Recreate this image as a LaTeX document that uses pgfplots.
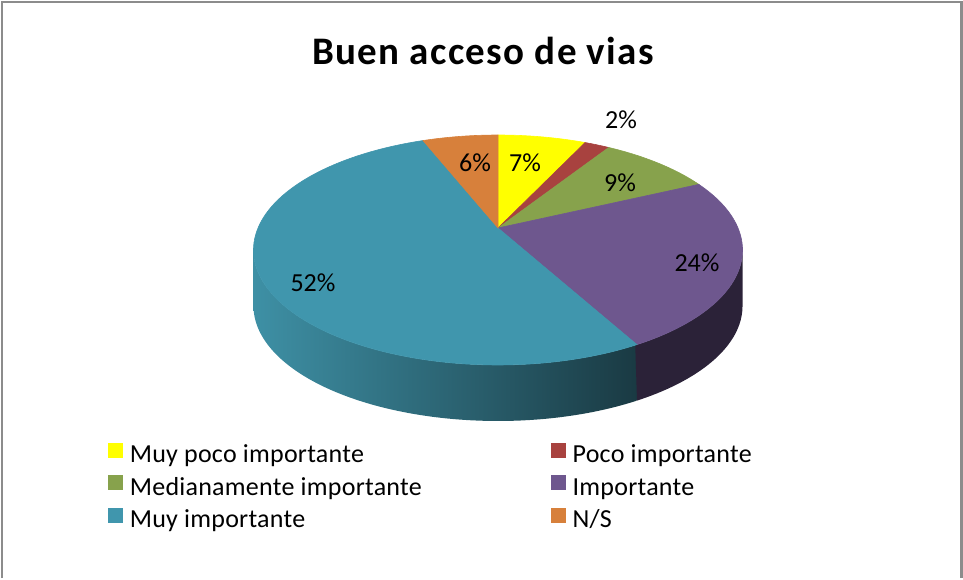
\documentclass[border=0pt]{standalone}
\usepackage{pgfplots}
\pgfplotsset{compat=1.18}
\usepackage{pgfplotstable}
\usepackage{fontspec}
\setmainfont{Carlito}
\definecolor{cY}{HTML}{FFFF00}
\definecolor{cR}{HTML}{A8423F}
\definecolor{cG}{HTML}{87A24C}
\definecolor{cP}{HTML}{6E578E}
\definecolor{cT}{HTML}{4096AD}
\definecolor{cO}{HTML}{D7803B}
\definecolor{cPs}{HTML}{2B2238}
\definecolor{cTsL}{HTML}{3E90A5}
\definecolor{cTsR}{HTML}{1A3A43}
\definecolor{frame}{HTML}{8C8C8C}

\pgfplotstableread{
idx pct
0 7
1 2
2 9
3 24
4 52
5 6
}\piedata

\begin{document}
\begin{tikzpicture}
\pgfplotstablegetelem{0}{pct}\of\piedata\edef\pA{\pgfplotsretval}
\pgfplotstablegetelem{1}{pct}\of\piedata\edef\pB{\pgfplotsretval}
\pgfplotstablegetelem{2}{pct}\of\piedata\edef\pC{\pgfplotsretval}
\pgfplotstablegetelem{3}{pct}\of\piedata\edef\pD{\pgfplotsretval}
\pgfplotstablegetelem{4}{pct}\of\piedata\edef\pE{\pgfplotsretval}
\pgfplotstablegetelem{5}{pct}\of\piedata\edef\pF{\pgfplotsretval}
\pgfmathsetmacro\aA{0}
\pgfmathsetmacro\aB{\aA+3.6*\pA}
\pgfmathsetmacro\aC{\aB+3.6*\pB}
\pgfmathsetmacro\aD{\aC+3.6*\pC}
\pgfmathsetmacro\aE{\aD+3.6*\pD}
\pgfmathsetmacro\aF{\aE+3.6*\pE}
\pgfmathsetmacro\aG{\aF+3.6*\pF}
\pgfmathsetmacro\sL{max(\aD,101.03)}
\pgfmathsetmacro\sR{min(\aF,258.97)}
\pgfmathsetmacro\sM{\aE+0.4}
\begin{axis}[
  width=481.5pt, height=289pt, scale only axis, hide axis,
  xmin=0, xmax=963, ymin=0, ymax=578, y dir=reverse, clip=false,
  declare function={
    px(\f)=498+240*sin(\f)/(1+0.1913*cos(\f));
    py(\f)=(228-67.17*cos(\f))/(1+0.1913*cos(\f));
  },
  legend columns=2,
  legend cell align=left,
  legend style={draw=none, fill=none,
    at={(axis description cs:0.11215,0.2336)}, anchor=north west,
    inner sep=0pt, outer sep=0pt,
    font=\fontsize{13}{15}\selectfont\addfontfeature{LetterSpace=1},
    nodes={inner sep=0pt, text height=9pt, text depth=3pt},
    row sep=3.25pt,
    /tikz/column 1/.style={column sep=3.5pt},
    /tikz/column 2/.style={column sep=64.5pt},
    /tikz/column 3/.style={column sep=3.5pt}},
]
\addlegendimage{legend image code/.code={\fill[cY] (0pt,-0.3pt) rectangle (7pt,6.7pt);}}
\addlegendentry{Muy poco importante}
\addlegendimage{legend image code/.code={\fill[cR] (0pt,-0.3pt) rectangle (7pt,6.7pt);}}
\addlegendentry{Poco importante}
\addlegendimage{legend image code/.code={\fill[cG] (0pt,-0.3pt) rectangle (7pt,6.7pt);}}
\addlegendentry{Medianamente importante}
\addlegendimage{legend image code/.code={\fill[cP] (0pt,-0.3pt) rectangle (7pt,6.7pt);}}
\addlegendentry{Importante}
\addlegendimage{legend image code/.code={\fill[cT] (0pt,-0.3pt) rectangle (7pt,6.7pt);}}
\addlegendentry{Muy importante}
\addlegendimage{legend image code/.code={\fill[cO] (0pt,-0.3pt) rectangle (7pt,6.7pt);}}
\addlegendentry{N/S}

\path (0,0) rectangle (963,578);
\draw[frame, line width=1.25pt] (2,578) -- (2,2) -- (961.5,2) -- (961.5,578);

% sides
\addplot[forget plot, left color=cTsL, right color=cTsR, draw=none, domain=0:2, samples=241, variable=\t]
  ({px(\aE+(\sR-\aE)*(1-abs(1-\t)))},{py(\aE+(\sR-\aE)*(1-abs(1-\t)))+56*(\t>1)}) -- cycle;
\addplot[forget plot, fill=cPs, draw=none, domain=0:2, samples=241, variable=\t]
  ({px(\sL+(\sM-\sL)*(1-abs(1-\t)))},{py(\sL+(\sM-\sL)*(1-abs(1-\t)))+56*(\t>1)}) -- cycle;

% top face
\addplot[forget plot, fill=cY, draw=cY, line width=0.3pt, domain=\aA:\aB, samples=30] ({px(x)},{py(x)}) -- (498,228) -- cycle;
\addplot[forget plot, fill=cR, draw=cR, line width=0.3pt, domain=\aB:\aC, samples=10] ({px(x)},{py(x)}) -- (498,228) -- cycle;
\addplot[forget plot, fill=cG, draw=cG, line width=0.3pt, domain=\aC:\aD, samples=30] ({px(x)},{py(x)}) -- (498,228) -- cycle;
\addplot[forget plot, fill=cP, draw=cP, line width=0.3pt, domain=\aD:\aE, samples=60] ({px(x)},{py(x)}) -- (498,228) -- cycle;
\addplot[forget plot, fill=cT, draw=cT, line width=0.3pt, domain=\aE:\aF, samples=120] ({px(x)},{py(x)}) -- (498,228) -- cycle;
\addplot[forget plot, fill=cO, draw=cO, line width=0.3pt, domain=\aF:\aG, samples=20] ({px(x)},{py(x)}) -- (498,228) -- cycle;

\node[font=\fontsize{19.5}{23}\selectfont\bfseries\addfontfeature{LetterSpace=3.5}] at (483,51) {Buen acceso de vias};
\begin{scope}[every node/.style={font=\fontsize{13}{15}\selectfont}]
\node at (525,163) {7\%};
\node at (621,120) {2\%};
\node at (620,183) {9\%};
\node at (697,263) {24\%};
\node at (313,283) {52\%};
\node at (475,163) {6\%};
\end{scope}
\end{axis}
\end{tikzpicture}
\end{document}
